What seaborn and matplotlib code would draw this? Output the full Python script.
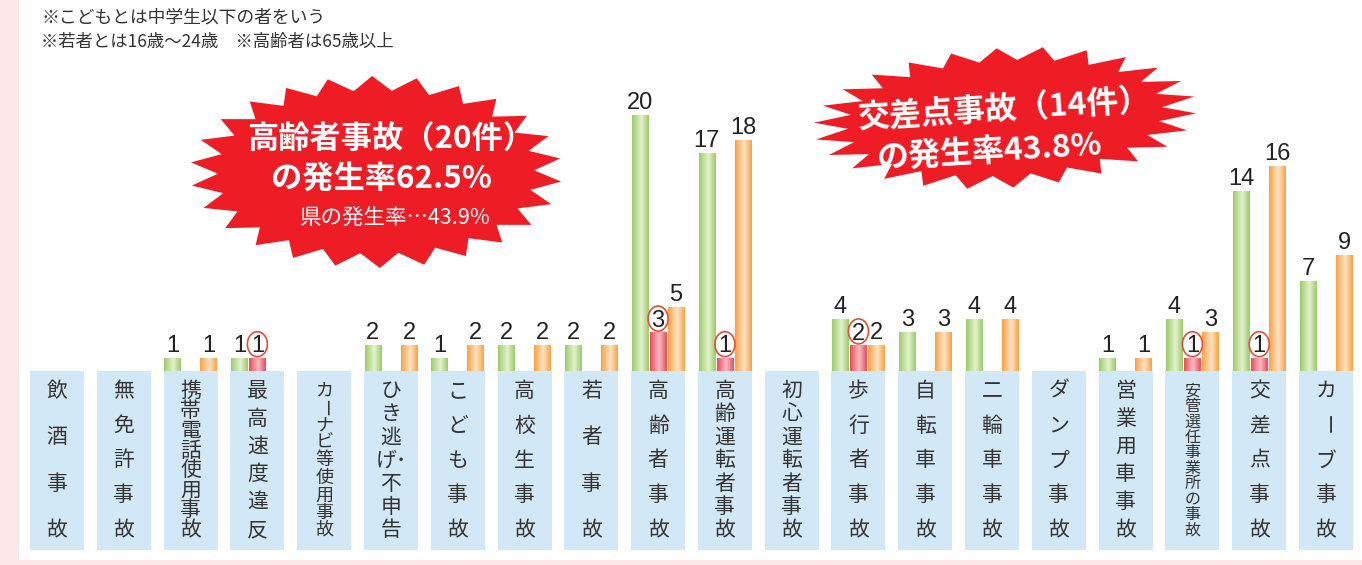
import numpy as np
import pandas as pd
import matplotlib.pyplot as plt
import matplotlib.transforms as mtransforms
import seaborn as sns
from matplotlib.patches import Polygon, Rectangle, Ellipse
from matplotlib.colors import LinearSegmentedColormap

nan = np.nan

# データ
categories = ['飲酒事故', '無免許事故', '携帯電話使用事故', '最高速度違反', 'カーナビ等使用事故',
              'ひき逃げ・不申告', 'こども事故', '高校生事故', '若者事故', '高齢者事故',
              '高齢運転者事故', '初心運転者事故', '歩行者事故', '自転車事故', '二輪車事故',
              'ダンプ事故', '営業用車事故', '安管選任事業所の事故', '交差点事故', 'カーブ事故']
green_vals = [nan, nan, 1, 1, nan, 2, 1, 2, 2, 20, 17, nan, 4, 3, 4, nan, 1, 4, 14, 7]
red_vals = [nan, nan, nan, 1, nan, nan, nan, nan, nan, 3, 1, nan, 2, nan, nan, nan, nan, 1, 1, nan]
orange_vals = [nan, nan, 1, nan, nan, 2, 2, 2, 2, 5, 18, nan, 2, 3, 4, nan, 1, 3, 16, 9]
series = ['系列1', '系列2', '系列3']

notes = ['※こどもとは中学生以下の者をいう',
         '※若者とは16歳～24歳　※高齢者は65歳以上']
burst1_lines = ['高齢者事故（20件）', 'の発生率62.5%', '県の発生率…43.9%']
burst2_lines = ['交差点事故（14件）', 'の発生率43.8%']

# 色 (縁, 中央)
grad_colors = {'系列1': ('#9ccc68', '#e4f2d0'),
               '系列2': ('#e84c5a', '#fbbcc3'),
               '系列3': ('#f9a244', '#fee4c6')}
circle_series = '系列2'

df = pd.DataFrame({
    'cat': categories * 3,
    'series': [s for s in series for _ in categories],
    'val': green_vals + red_vals + orange_vals,
})

W, H = 1362, 565
fig = plt.figure(figsize=(W / 100, H / 100), dpi=100)
plt.rcParams['font.family'] = ['Noto Sans CJK JP', 'DejaVu Sans']

# 背景・注記・吹き出し用 (ピクセル座標)
bg = fig.add_axes([0, 0, 1, 1], zorder=0)
bg.set_xlim(0, W)
bg.set_ylim(H, 0)
bg.axis('off')
pink = '#fce7e9'
bg.add_patch(Rectangle((0, 0), 19, H, color=pink, lw=0))
bg.add_patch(Rectangle((0, 560), W, 5, color=pink, lw=0))
bg.text(41, 18, notes[0], fontsize=12.8, color='#333333', va='center', ha='left')
bg.text(41, 42, notes[1], fontsize=12.5, color='#333333', va='center', ha='left')


def burst(cx, cy, rx, ry, n, inner, angle=0):
    t = np.linspace(0, 2 * np.pi, 2 * n, endpoint=False) + 0.1
    r = np.where(np.arange(2 * n) % 2 == 0, 1.0, inner)
    x = rx * r * np.cos(t)
    y = ry * r * np.sin(t)
    a = np.deg2rad(angle)
    xr = x * np.cos(a) + y * np.sin(a)
    yr = -x * np.sin(a) + y * np.cos(a)
    return np.column_stack([cx + xr, cy + yr])


bg.add_patch(Polygon(burst(376, 172, 186, 96, 26, 0.85), closed=True, fc='#ee1c25', ec='none'))
bg.text(391, 140, burst1_lines[0], fontsize=22.5, fontweight='bold', color='white', ha='center', va='center')
bg.text(381, 180, burst1_lines[1], fontsize=22.5, fontweight='bold', color='white', ha='center', va='center')
bg.text(395, 218, burst1_lines[2], fontsize=15.5, color='white', ha='center', va='center')

bg.add_patch(Polygon(burst(1005, 118, 192, 70, 26, 0.82, angle=3.5), closed=True, fc='#ee1c25', ec='none'))
bg.text(1004, 110, burst2_lines[0], fontsize=23, fontweight='bold', color='white',
        ha='center', va='center', rotation=3.5, rotation_mode='anchor')
bg.text(990, 152, burst2_lines[1], fontsize=23, fontweight='bold', color='white',
        ha='center', va='center', rotation=3.5, rotation_mode='anchor')

# 棒グラフ
ax = fig.add_axes([0, 0, 1, 1], zorder=1)
ax.set_facecolor('none')
sns.barplot(data=df, x='cat', y='val', hue='series', order=categories, hue_order=series,
            width=0.81, gap=0.08, dodge=True, legend=False, ax=ax, errorbar=None)

pitch = (1326 - 57) / 19
base_px, unit_px = 371, 12.8
xlim = (-57 / pitch, (W - 57) / pitch)
ylim = ((base_px - H) / unit_px, base_px / unit_px)
ax.set_xlim(*xlim)
ax.set_ylim(*ylim)

for s, cont in zip(series, ax.containers):
    edge, light = grad_colors[s]
    cmap = LinearSegmentedColormap.from_list(s, [(0, edge), (0.55, light), (1, edge)])
    for bar in cont:
        h = bar.get_height()
        if not np.isfinite(h) or h <= 0:
            continue
        x0, w = bar.get_x(), bar.get_width()
        ax.imshow(np.linspace(0, 1, 64).reshape(1, -1), cmap=cmap, aspect='auto',
                  extent=[x0, x0 + w, 0, h], zorder=2, interpolation='bilinear')
        bar.set_visible(False)
        xc = x0 + w / 2
        label = f'{int(h)}'
        if s == circle_series:
            # 丸数字: 棒の上に楕円
            tr = mtransforms.Affine2D().translate(0, 14) + \
                mtransforms.ScaledTranslation(xc, h, ax.transData)
            ax.add_patch(Ellipse((0, 0), 20, 25, transform=tr, fc='none',
                                 ec='#e0503c', lw=1.2, zorder=4))
            ax.annotate(label, (xc, h), xytext=(0, 4.2), textcoords='offset points',
                        ha='center', va='baseline', fontsize=17, family='Liberation Sans',
                        color='#222222', zorder=4)
        else:
            ax.annotate(label, (xc, h), xytext=(0, 1), textcoords='offset points',
                        ha='center', va='bottom', fontsize=17, family='Liberation Sans',
                        color='#222222', zorder=4)

# 項目名の枠と縦書きラベル
box_w = 54 / pitch
box_bottom = (base_px - 550) / unit_px
y_first = (base_px - 391) / unit_px
y_last = (base_px - 530) / unit_px
for i, cat in enumerate(categories):
    ax.add_patch(Rectangle((i - box_w / 2, box_bottom), box_w, -box_bottom,
                           fc='#d3e8f6', ec='none', zorder=1))
    rows = list(cat.replace('・', '･'))
    if '･' in rows:
        k = rows.index('･')
        rows[k - 1] = rows[k - 1] + '･'
        rows.pop(k)
    n = len(rows)
    fs = 15 if n <= 8 else (13 if n == 9 else 11.5)
    ys = np.linspace(y_first, y_last, n)
    for ch, yy in zip(rows, ys):
        rot = -90 if ch == 'ー' else 0
        ax.text(i, yy, ch, fontsize=fs, color='#333333', ha='center', va='center',
                rotation=rot, zorder=3)

ax.set_xlim(*xlim)
ax.set_ylim(*ylim)
ax.axis('off')

fig.savefig('out.png', dpi=100)
